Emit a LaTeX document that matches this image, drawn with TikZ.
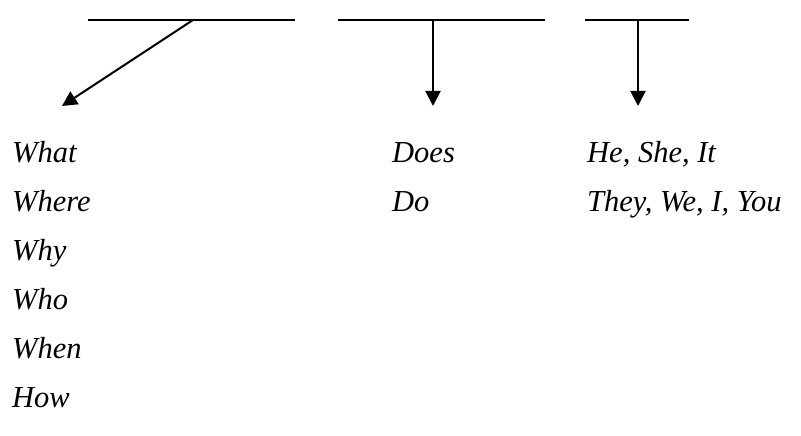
\documentclass[tikz,border=0pt]{standalone}
\usepackage{fontspec}
\setmainfont{Liberation Serif}
\usetikzlibrary{arrows.meta}
\begin{document}
\begin{tikzpicture}[x=1pt,y=-1pt,
  bar/.style={line width=1.8pt},
  arr/.style={line width=2pt,-{Triangle[length=15pt,width=15pt]}},
  word/.style={anchor=base west,inner sep=0pt,font=\fontsize{30.5}{33}\selectfont\itshape}]
\useasboundingbox (0,0) rectangle (801,436);
% bars
\coordinate (a1) at (88,20); \coordinate (a2) at (295,20); \coordinate (am) at (193,20);
\coordinate (b1) at (338,20); \coordinate (b2) at (545,20); \coordinate (bm) at (433,20);
\coordinate (c1) at (585,20); \coordinate (c2) at (689,20); \coordinate (cm) at (638,20);
\coordinate (at) at (62,106); \coordinate (bt) at (433,106); \coordinate (ct) at (638,106);
\draw[bar] (a1) -- (a2);
\draw[bar] (b1) -- (b2);
\draw[bar] (c1) -- (c2);
\draw[arr] (am) -- (at);
\draw[arr] (bm) -- (bt);
\draw[arr] (cm) -- (ct);
% words
\node[word] (what) at (12,162) {What};
\node[word] (where) at (12,211) {Where};
\node[word] (why) at (12,260) {Why};
\node[word] (who) at (12,309) {Who};
\node[word] (when) at (12,358) {When};
\node[word] (how) at (12,407) {How};
\node[word] (does) at (392,162) {Does};
\node[word] (do) at (392,211) {Do};
\node[word] (he) at (587,162) {He, She, It};
\node[word] (they) at (587,211) {They, We, I, You};
\end{tikzpicture}
\end{document}
